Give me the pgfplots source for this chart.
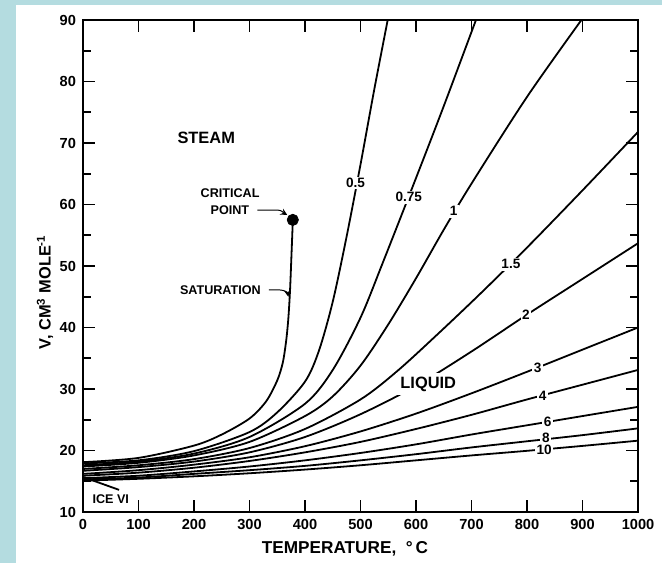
\documentclass[border=0pt]{standalone}
\usepackage{fontspec}
\setmainfont{Liberation Sans}
\usepackage{pgfplots}
\pgfplotsset{compat=1.18}
\definecolor{bgblue}{HTML}{B4DCE0}
\begin{document}
\begin{tikzpicture}
\useasboundingbox (0pt,0pt) rectangle (331pt,281.5pt);
\fill[bgblue] (0pt,0pt) rectangle (331pt,281.5pt);
\fill[white] (8pt,0pt) rectangle (331pt,279pt);
\begin{axis}[
 at={(41.5pt,25.5pt)}, anchor=south west,
 scale only axis, width=277.5pt, height=246pt,
 xmin=0, xmax=1000, ymin=10, ymax=90,
 xtick={0,100,...,1000}, ytick={10,20,...,90},
 minor ytick={15,25,...,85},
 major tick length=6pt, minor tick length=4pt,
 axis line style={line width=1pt},
 every tick/.style={black, line width=0.8pt},
 tick label style={font=\bfseries\fontsize{7.3}{8}\selectfont},
 /pgf/number format/assume math mode=true,
 /pgf/number format/1000 sep={},
 xlabel={TEMPERATURE,\ \ °\,C},
 ylabel={V, CM\textsuperscript{3} MOLE\textsuperscript{-1}},
 xlabel style={font=\bfseries\fontsize{8.6}{10}\selectfont, at={(axis description cs:0.472,-0.075)}, anchor=center},
 ylabel style={font=\bfseries\fontsize{8.2}{10}\selectfont, at={(axis description cs:-0.0685,0.447)}, anchor=center},
 clip=true,
]
% saturation
\addplot[black, line width=0.9pt, smooth] coordinates {
 (0,18.1) (100,18.8) (200,20.8) (250,22.6) (300,25.2) (330,28.0) (350,31.4) (360,34.3) (366,37.8) (370,41.5) (373,46) (375.5,51.5) (378,57.3)};
% 0.5
\addplot[black, line width=0.9pt, smooth] coordinates {
 (0,17.9) (100,18.4) (200,19.9) (300,23.0) (350,26.2) (400,31.2) (425,36.2) (450,44.2) (475,54.8) (500,66.5) (525,78.8) (549,90)};
% 0.75
\addplot[black, line width=0.9pt, smooth] coordinates {
 (0,17.6) (100,18.2) (200,19.5) (300,22.2) (400,27.6) (450,33.1) (500,41.6) (540,50.5) (600,64.3) (650,76) (708,90)};
% 1
\addplot[black, line width=0.9pt, smooth] coordinates {
 (0,17.4) (100,18.0) (200,19.2) (300,21.4) (400,25.6) (450,28.8) (500,33.8) (550,40.5) (600,48) (650,55.9) (700,63.4) (800,77.5) (898,90)};
% 1.5
\addplot[black, line width=0.9pt, smooth] coordinates {
 (0,17.0) (100,17.6) (200,18.6) (300,20.4) (400,23.5) (500,28.3) (566,32.9) (640,39.0) (717,45.6) (800,53) (900,62.3) (1000,71.8)};
% 2
\addplot[black, line width=0.9pt, smooth] coordinates {
 (0,16.7) (100,17.3) (200,18.2) (300,19.7) (400,22.2) (500,25.9) (600,30.5) (700,36.1) (800,42.1) (900,47.9) (1000,53.7)};
% 3
\addplot[black, line width=0.9pt, smooth] coordinates {
 (0,16.2) (100,16.8) (200,17.7) (300,18.9) (400,20.7) (500,23.1) (600,26.0) (700,29.3) (800,32.8) (900,36.4) (1000,40.0)};
% 4
\addplot[black, line width=0.9pt, smooth] coordinates {
 (0,15.9) (100,16.4) (200,17.2) (300,18.3) (400,19.7) (500,21.4) (600,23.5) (700,25.8) (800,28.3) (900,30.7) (1000,33.1)};
% 6
\addplot[black, line width=0.9pt, smooth] coordinates {
 (0,15.5) (100,15.9) (200,16.6) (300,17.4) (400,18.4) (500,19.6) (600,21.0) (700,22.6) (800,24.1) (900,25.6) (1000,27.1)};
% 8
\addplot[black, line width=0.9pt, smooth] coordinates {
 (0,15.3) (100,15.6) (200,16.2) (300,16.8) (400,17.5) (500,18.4) (600,19.4) (700,20.5) (800,21.5) (900,22.5) (1000,23.6)};
% 10
\addplot[black, line width=0.9pt, smooth] coordinates {
 (0,15.1) (100,15.4) (200,15.8) (300,16.3) (400,16.9) (500,17.6) (600,18.4) (700,19.2) (800,19.95) (900,20.75) (1000,21.6)};
% ice VI boundary
\addplot[black, line width=0.9pt] coordinates {(0,15.7) (65,13.6)};
% critical point
\addplot[only marks, mark=*, mark size=2.8pt, black] coordinates {(378,57.5)};

\begin{scope}[every node/.style={fill=white, inner sep=0.8pt, font=\bfseries\fontsize{6.8}{8}\selectfont}]
\node at (axis cs:491,63.5) {0.5};
\node at (axis cs:587,61.2) {0.75};
\node at (axis cs:668,58.9) {1};
\node at (axis cs:771,50.3) {1.5};
\node at (axis cs:798,42) {2};
\node at (axis cs:819,33.5) {3};
\node at (axis cs:828,28.9) {4};
\node at (axis cs:837,24.7) {6};
\node at (axis cs:834,22.0) {8};
\node at (axis cs:831,20.1) {10};
\node[font=\bfseries\fontsize{8.2}{9}\selectfont, inner sep=2pt] at (axis cs:622,30.8) {LIQUID};
\end{scope}
\node[font=\bfseries\fontsize{8.2}{9}\selectfont] at (axis cs:222,70.8) {STEAM};
\node[font=\bfseries\fontsize{6.3}{7}\selectfont] at (axis cs:265,61.8) {CRITICAL};
\node[font=\bfseries\fontsize{6.3}{7}\selectfont, anchor=east] at (axis cs:312,59.1) {POINT};
\node[font=\bfseries\fontsize{6.3}{7}\selectfont, anchor=east] at (axis cs:333,46.1) {SATURATION};
\node[font=\bfseries\fontsize{6.3}{7}\selectfont] at (axis cs:50,12.1) {ICE VI};
\draw[line width=0.5pt, -stealth] (axis cs:314,59.1) -- (axis cs:350,59.1) to[out=0,in=150] (axis cs:368,58.3);
\draw[line width=0.5pt, -stealth] (axis cs:335,46.1) -- (axis cs:355,46.1) to[out=0,in=100] (axis cs:370,45.0);
\end{axis}
\end{tikzpicture}
\end{document}
